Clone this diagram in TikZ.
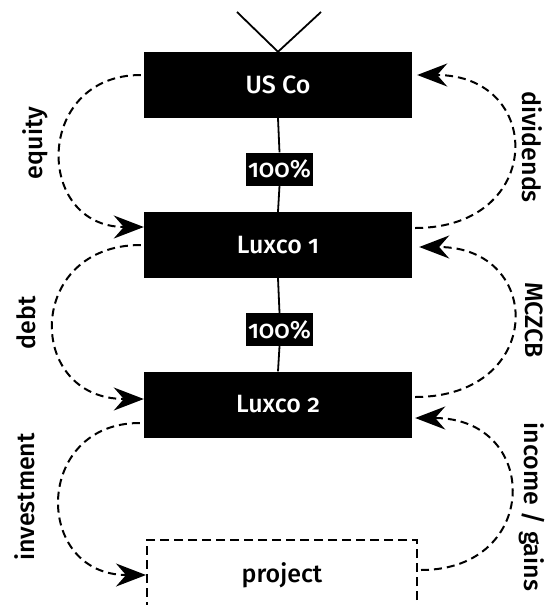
\documentclass[tikz,border=0pt]{standalone}
\usepackage{fontspec}
\setmainfont{Fira Sans Medium}[Numbers=OldStyle]
\usetikzlibrary{arrows.meta}
\begin{document}
\begin{tikzpicture}[x=1pt,y=-1pt,
  txt/.style={font=\fontsize{25}{30}\selectfont},
  entity/.style={txt,fill=black,text=white,minimum width=268pt,minimum height=66pt,inner sep=0pt},
  share/.style={txt,fill=black,text=white,minimum width=67pt,minimum height=33pt,inner sep=0pt},
  target/.style={txt,draw,line width=2pt,dash pattern=on 9pt off 5pt,minimum width=270pt,minimum height=70pt,inner sep=0pt},
  own/.style={line width=1.8pt},
  flow/.style={draw,line width=2pt,dash pattern=on 8pt off 5pt,
    -{Stealth[length=30pt,width=23pt,inset=10pt]}},
  lbl/.style={txt,inner sep=0pt}]
\clip (0,0) rectangle (547,605);

% entities
\node[entity] (usco)   at (278,85)    {US Co};
\node[share]  (pct1)   at (279.5,169) {100\%};
\node[entity] (luxco1) at (278,245)   {Luxco 1};
\node[share]  (pct2)   at (279.5,329.5) {100\%};
\node[entity] (luxco2) at (278,404.5) {Luxco 2};
\node[target] (proj)   at (282,575)   {project};

% shareholders above US Co
\coordinate (vl) at (237,12);
\coordinate (vr) at (321,12);
\draw[own] (vl) -- (usco.north) -- (vr);

% ownership lines
\draw[own] (usco.south) -- (pct1.north);
\draw[own] (pct1.south) -- (luxco1.north);
\draw[own] (luxco1.south) -- (pct2.north);
\draw[own] (pct2.south) -- (luxco2.north);

% flows on the left
\draw[flow] ([xshift=-3pt,yshift=10pt]usco.west)
  .. controls (34,75) and (34,227) .. ([yshift=18pt]luxco1.west);
\draw[flow] ([xshift=-3pt]luxco1.west)
  .. controls (25,245) and (25,399) .. ([yshift=5.5pt]luxco2.west);
\draw[flow] ([xshift=-4pt,yshift=-18.5pt]luxco2.west)
  .. controls (33,423) and (33,575) .. (proj.west);

% flows on the right
\draw[flow] ([xshift=3pt,yshift=17pt]luxco1.east)
  .. controls (545,228) and (545,75) .. ([xshift=5pt,yshift=10pt]usco.east);
\draw[flow] ([xshift=3pt,yshift=7.5pt]luxco2.east)
  .. controls (545,397) and (545,247) .. ([xshift=7pt,yshift=-2pt]luxco1.east);
\draw[flow] ([xshift=3pt,yshift=5pt]proj.east)
  .. controls (541,570) and (541,418) .. ([xshift=3pt,yshift=-13.5pt]luxco2.east);

% flow labels
\node[lbl,rotate=90]  (lequity) at (35,143)  {equity};
\node[lbl,rotate=90]  (ldebt)   at (26,323)  {debt};
\node[lbl,rotate=90]  (linv)    at (25,497)  {investment};
\node[lbl,rotate=-90] (ldiv)    at (532,147) {dividends};
\node[lbl,rotate=-90] (lmczcb)  at (534,320) {MCZCB};
\node[lbl,rotate=-90] (lincome) at (532,507) {income / gains};
\end{tikzpicture}
\end{document}
